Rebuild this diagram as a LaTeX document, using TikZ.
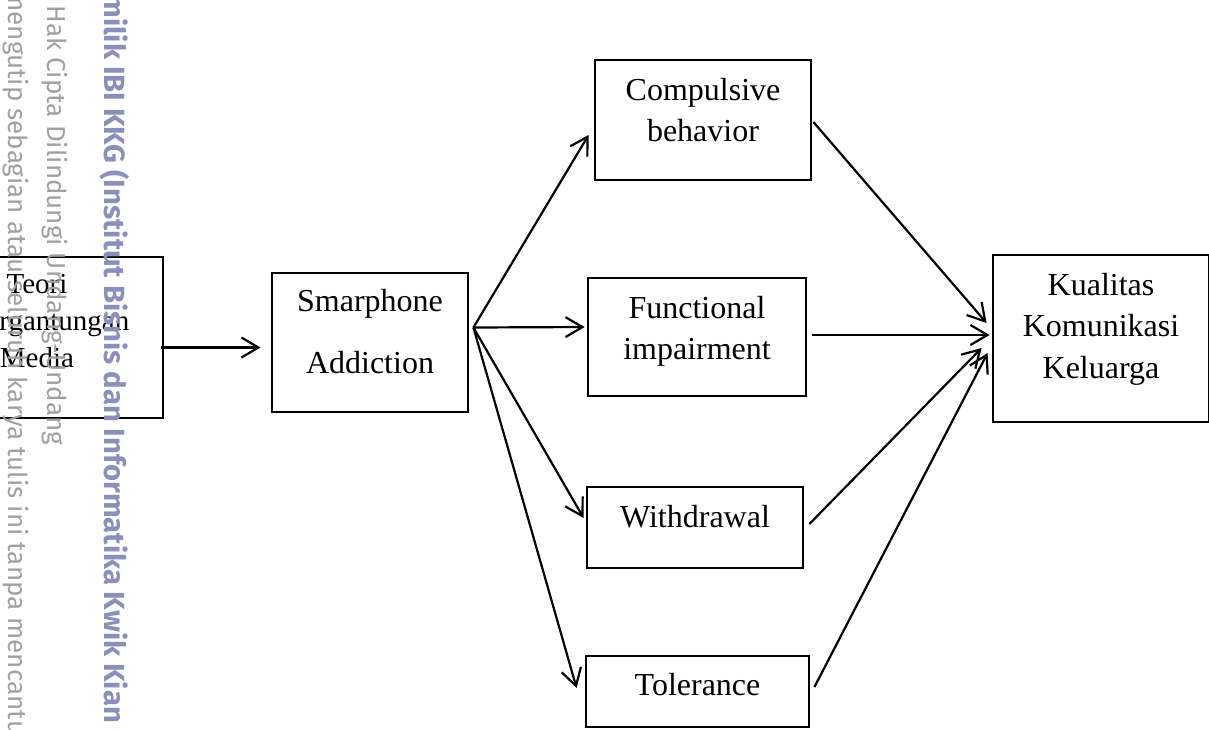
\documentclass[tikz,border=0pt]{standalone}
\usepackage{fontspec}
\setmainfont{Liberation Serif}
\newfontfamily\wmfont{Fira Sans}
\usetikzlibrary{positioning,arrows.meta,calc}
\definecolor{wmgrey}{HTML}{A0A0A0}
\definecolor{wmblue}{HTML}{8C8FBC}
\tikzset{
  box/.style={draw=black,line width=1.4pt,align=center,inner sep=0pt,
              font=\fontsize{16}{20.8}\selectfont},
  arrow/.style={-{Straight Barb[length=8.5pt,width=10pt]},line width=1.1pt},
  stamp/.style={rotate=-90,anchor=base west,inner sep=0pt,
                font=\wmfont\fontsize{13}{13}\selectfont,text=wmgrey},
}

\begin{document}
\begin{tikzpicture}[x=0.5pt,y=-0.5pt]
    \path[use as bounding box,clip] (0,0) rectangle (1209,729);
    % theory and main variable
    \node[box,minimum width=126pt,minimum height=80.5pt,text depth=16.5pt,
          font=\fontsize{14.5}{18.5}\selectfont] (teori) at (37,337.5) {Teori\\Ketergantungan\\Media};
    \node[box,minimum width=98pt,minimum height=69.5pt,text depth=11pt,
          font=\fontsize{16}{30.8}\selectfont] (smart) at (370,342.5) {Smarphone\\Addiction};
    % dimensions and outcome
    \foreach \name/\x/\y/\w/\h/\d/\body in {
      comp/703/120/108/60/10.2/{Compulsive\\behavior},
      func/697/337/109/59/9.2/{Functional\\impairment},
      withd/695/527.5/108/40.5/11/{Withdrawal},
      tol/697.5/691.5/111.5/35.5/7.5/{Tolerance},
      kual/1101/338.5/108/83.5/12.9/{Kualitas\\Komunikasi\\Keluarga}%
    }{
      \node[box,minimum width=\w pt,minimum height=\h pt,text depth=\d pt] (\name) at (\x,\y) {\body};
    }
    \draw[arrow] ($(teori.east)+(-3,10)$) -- ($(smart.west)+(-10,5)$);
    \coordinate (fan) at ($(smart.east)+(4,-15)$);
    \foreach \name/\dx/\dy in {comp/-5/15,func/-2/-10,withd/-2/-9.5,tol/-8/-3.5}
      \draw[arrow] (fan) -- ($(\name.west)+(\dx,\dy)$);
    \foreach \name/\sx/\sy/\dx/\dy in {comp/1/2/-5/-15.5,func/5/-2/-2/-3.5,
                                      withd/5/-3.5/-10/9.5,tol/4/-4.5/-4/14.5}
      \draw[arrow] ($(\name.east)+(\sx,\sy)$) -- ($(kual.west)+(\dx,\dy)$);
    % page stamp
    \node[stamp] (wmcopy) at (9,-11) {mengutip sebagian atau seluruh karya tulis ini tanpa mencantumkan};
    \node[stamp] (wmright) at (47.5,5) {Hak Cipta Dilindungi Undang-Undang};
    \node[stamp,font=\wmfont\bfseries\fontsize{14.6}{14.6}\selectfont,text=wmblue] (wmowner) at (104,-7)
      {milik IBI KKG (Institut Bisnis dan Informatika Kwik Kian Gie)};
  \end{tikzpicture}
\end{document}
